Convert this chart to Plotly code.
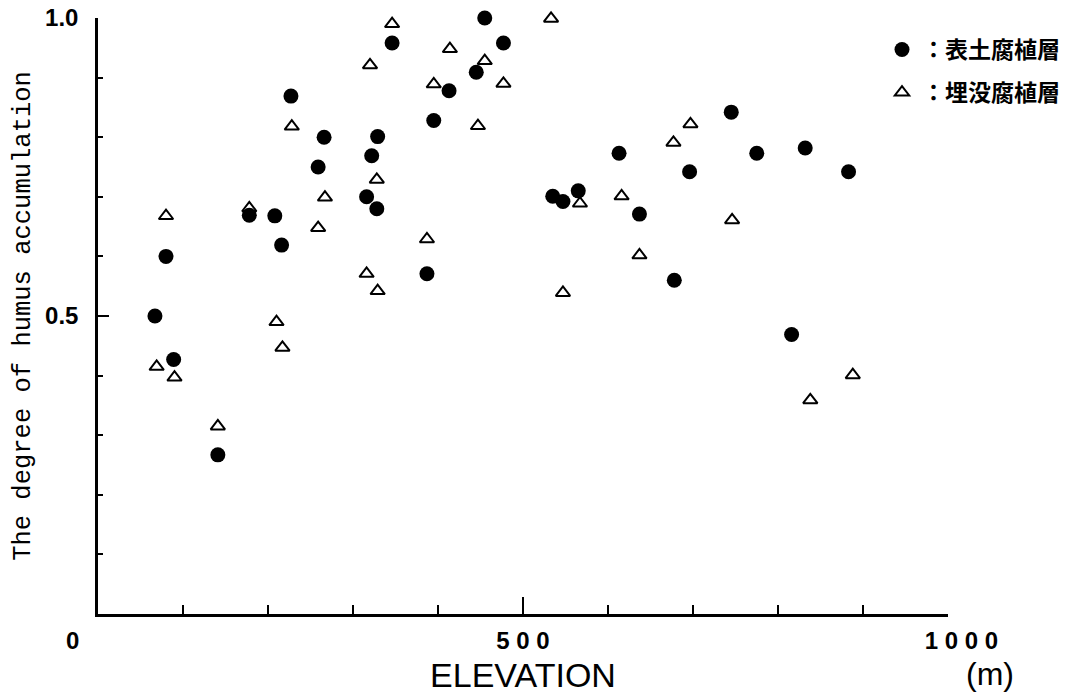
import plotly.graph_objects as go

# 表土腐植層 (filled circles)
surface_x = [67, 80, 89, 141, 178, 208, 216, 227, 259, 266, 316, 322, 328, 329, 346,
             387, 395, 413, 445, 455, 477, 535, 547, 565, 613, 637, 678, 696, 745,
             775, 816, 832, 883]
surface_y = [0.500, 0.600, 0.427, 0.267, 0.669, 0.668, 0.619, 0.869, 0.750, 0.800,
             0.700, 0.769, 0.680, 0.801, 0.958, 0.571, 0.828, 0.878, 0.909, 1.000,
             0.958, 0.701, 0.692, 0.710, 0.773, 0.671, 0.560, 0.742, 0.842, 0.773,
             0.469, 0.782, 0.742]

# 埋没腐植層 (open triangles)
buried_x = [69, 80, 90, 141, 178, 210, 217, 228, 259, 267, 316, 320, 328, 329, 346,
            387, 395, 414, 447, 455, 477, 533, 547, 567, 616, 637, 677, 697, 746,
            838, 888]
buried_y = [0.415, 0.668, 0.397, 0.315, 0.681, 0.490, 0.447, 0.818, 0.648, 0.699,
            0.571, 0.921, 0.729, 0.542, 0.990, 0.629, 0.889, 0.948, 0.819, 0.928,
            0.890, 0.999, 0.539, 0.689, 0.701, 0.602, 0.791, 0.822, 0.661, 0.359,
            0.401]

x_tickvals = [500, 1000]
x_ticktext = ["5 0 0", "\u00a0\u00a0\u00a0\u00a01 0 0 0"]
y_tickvals = [0.5, 1.0]
y_ticktext = ["0.5", "1.0"]

series_names = ["：表土腐植層", "：埋没腐植層"]

fig = go.Figure()
fig.add_trace(go.Scatter(
    x=surface_x, y=surface_y, mode="markers", name=series_names[0],
    legendgroup="a",
    marker=dict(symbol="circle", size=15, color="black", line=dict(width=0)),
    cliponaxis=False,
))
fig.add_trace(go.Scatter(
    x=buried_x, y=buried_y, mode="markers", name=series_names[1],
    legendgroup="b",
    marker=dict(symbol="triangle-up-open", size=12.5, color="black",
                line=dict(width=2, color="black")),
    cliponaxis=False,
))

tick_font = dict(family="Liberation Sans", size=24, color="black", weight="bold")

fig.update_layout(
    width=1078, height=694,
    margin=dict(l=98, r=130, t=18, b=80, autoexpand=False),
    paper_bgcolor="white", plot_bgcolor="white",
    showlegend=True,
    legend=dict(
        x=(882 - 98) / 850, y=(614 - 28) / 596, xanchor="left", yanchor="top",
        font=dict(family="Noto Sans CJK JP", size=23, color="black", weight="bold"),
        bgcolor="rgba(0,0,0,0)", traceorder="grouped", tracegroupgap=10,
        itemclick=False, itemdoubleclick=False,
    ),
    xaxis=dict(
        range=[0, 1000], showgrid=False, zeroline=False,
        showline=True, linewidth=2.5, linecolor="black",
        tickmode="array", tickvals=x_tickvals, ticktext=x_ticktext,
        ticks="inside", ticklen=17, tickwidth=2, tickcolor="black",
        tickfont=tick_font, ticklabelstandoff=3,
        minor=dict(dtick=100, ticks="inside", ticklen=9, tickwidth=2, tickcolor="black"),
        title=dict(text="ELEVATION", font=dict(family="Liberation Sans", size=34, color="black"),
                   standoff=16),
    ),
    yaxis=dict(
        range=[0, 1.0], showgrid=False, zeroline=False,
        showline=True, linewidth=2.5, linecolor="black",
        tickmode="array", tickvals=y_tickvals, ticktext=y_ticktext,
        ticks="inside", ticklen=11, tickwidth=2, tickcolor="black",
        tickfont=tick_font, ticklabelstandoff=12,
        minor=dict(dtick=0.1, ticks="inside", ticklen=5, tickwidth=1.5, tickcolor="black"),
        title=dict(text="The degree of humus accumulation",
                   font=dict(family="Liberation Mono", size=25.5, color="black"),
                   standoff=8),
    ),
)

fig.add_annotation(
    text="0", x=0, y=0, xref="x", yref="y", xshift=-26, yshift=-26,
    showarrow=False, font=tick_font, xanchor="center", yanchor="middle",
)
fig.add_annotation(
    text="(m)", x=1000, y=0, xref="x", yref="y", xshift=42, yshift=-60,
    showarrow=False, font=dict(family="Liberation Sans", size=32, color="black"),
    xanchor="center", yanchor="middle",
)

fig.write_html("out.html")
